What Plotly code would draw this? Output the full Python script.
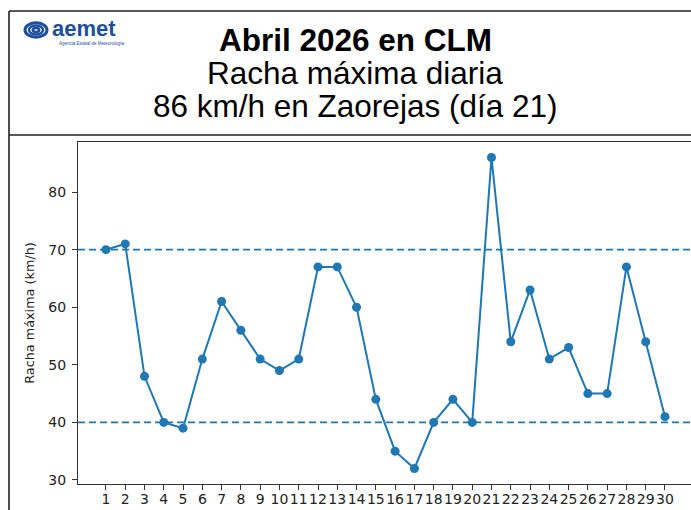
import plotly.graph_objects as go

days = list(range(1, 31))
racha = [70, 71, 48, 40, 39, 51, 61, 56, 51, 49,
         51, 67, 67, 60, 44, 35, 32, 40, 44, 40,
         86, 54, 63, 51, 53, 45, 45, 67, 54, 41]
umbrales = [70, 40]
y_ticks = [30, 40, 50, 60, 70, 80]
title_lines = ["<b>Abril 2026 en CLM</b>", "Racha máxima diaria", "86 km/h en Zaorejas (día 21)"]
y_label = "Racha máxima (km/h)"

W, H = 691, 510
L, R, T, B = 78, 0, 142, 26
PW, PH = W - L - R, H - T - B

def px(x):
    return (x - L) / PW

def py(y):
    return (H - B - y) / PH

C0 = "#1f77b4"
BLUE = "#1d4f9e"

fig = go.Figure()
fig.add_trace(go.Scatter(
    x=days, y=racha, mode="lines+markers",
    line=dict(color=C0, width=2),
    marker=dict(color=C0, size=9),
    showlegend=False, cliponaxis=False,
))

shapes = []
for u in umbrales:
    shapes.append(dict(type="line", xref="paper", x0=0, x1=1, yref="y", y0=u, y1=u,
                       line=dict(color=C0, width=1.6, dash="7px,4px"), layer="below"))
# header frame
frame = dict(color="#222", width=1.6)
shapes.append(dict(type="line", xref="paper", yref="paper", x0=px(9), x1=px(700), y0=py(11), y1=py(11), line=frame))
shapes.append(dict(type="line", xref="paper", yref="paper", x0=px(9), x1=px(9), y0=py(11), y1=py(530), line=frame))
shapes.append(dict(type="line", xref="paper", yref="paper", x0=px(9), x1=px(700), y0=py(135), y1=py(135), line=frame))

# logo icon (stylised swirl)
for r, w in [(11, 3), (7, 2.5), (3.2, 2.5)]:
    cx, cy = 36, 30
    shapes.append(dict(type="circle", xref="paper", yref="paper",
                       x0=px(cx - r), x1=px(cx + r), y0=py(cy - r * 0.65), y1=py(cy + r * 0.65),
                       line=dict(color=BLUE, width=w)))

annotations = []
title_y = [40, 73, 106]
for txt, yy in zip(title_lines, title_y):
    annotations.append(dict(text=txt, xref="paper", yref="paper", x=px(355), y=py(yy),
                            xanchor="center", yanchor="middle", showarrow=False,
                            font=dict(family="Liberation Sans, Arial", size=31.5, color="black")))
annotations.append(dict(text="<b>aemet</b>", xref="paper", yref="paper", x=px(50), y=py(29),
                        xanchor="left", yanchor="middle", showarrow=False,
                        font=dict(family="Liberation Sans, Arial", size=22, color=BLUE)))
annotations.append(dict(text="Agencia Estatal de Meteorología", xref="paper", yref="paper", x=px(57), y=py(43),
                        xanchor="left", yanchor="middle", showarrow=False,
                        font=dict(family="Liberation Sans, Arial", size=4.5, color=BLUE)))

fig.update_layout(
    width=W, height=H,
    margin=dict(l=L, r=R, t=T, b=B, pad=0, autoexpand=False),
    paper_bgcolor="white", plot_bgcolor="white",
    shapes=shapes, annotations=annotations,
    xaxis=dict(range=[-0.45, 31.35], tickmode="array", tickvals=days, ticktext=[str(d) for d in days],
               showgrid=False, zeroline=False, showline=True, linecolor="#333", linewidth=1.3,
               mirror=True, ticks="outside", ticklen=5, tickcolor="#333", tickwidth=1,
               ticklabelstandoff=-3, automargin=False, tickangle=0,
               tickfont=dict(family="DejaVu Sans", size=14, color="#222")),
    yaxis=dict(range=[29.3, 88.7], tickmode="array", tickvals=y_ticks,
               showgrid=False, zeroline=False, showline=True, linecolor="#333", linewidth=1.3,
               ticks="outside", ticklen=5, tickcolor="#333", tickwidth=1,
               ticklabelstandoff=3, automargin=False,
               tickfont=dict(family="DejaVu Sans", size=14, color="#222"),
               title=dict(text=y_label, font=dict(family="DejaVu Sans", size=12.8, color="#222"), standoff=10)),
)

fig.write_html("out.html", config={"displayModeBar": False},
               post_script="document.body.style.margin='0';document.body.style.overflow='hidden';")
